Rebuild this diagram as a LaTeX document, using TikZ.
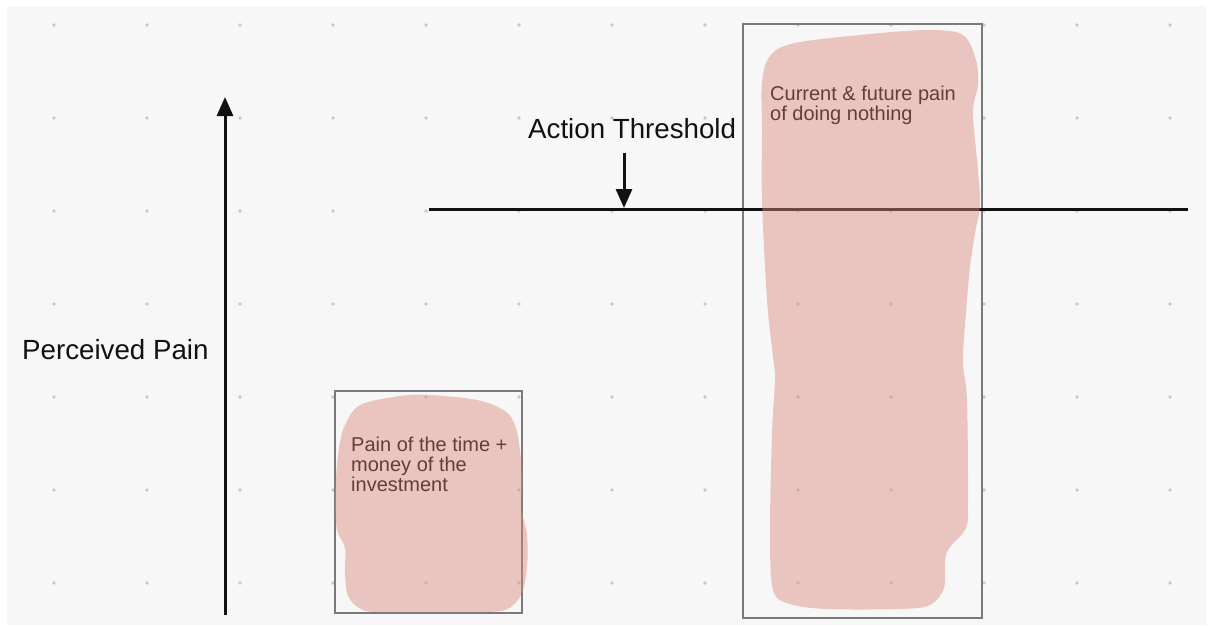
\documentclass[tikz,border=0pt]{standalone}
\usepackage{fontspec}
\setmainfont{Liberation Sans}
\usetikzlibrary{arrows.meta}
\definecolor{bgc}{HTML}{F7F7F7}
\definecolor{dotc}{HTML}{C8C8C8}
\definecolor{boxc}{HTML}{7A7A7A}
\definecolor{blobc}{RGB}{220,138,127}
\definecolor{inkc}{HTML}{111111}
\begin{document}
\begin{tikzpicture}[x=1pt,y=-1pt,
  framebox/.style={draw=boxc, line width=1.6pt, inner sep=0pt},
  arr/.style={draw=inkc, line width=3pt, -{Triangle[length=19pt,width=16pt]}},
  thr/.style={draw=inkc, line width=3pt},
  bigtext/.style={font=\fontsize{27.7}{30}\selectfont, text=inkc, inner sep=0pt, anchor=base west},
  smalltext/.style={font=\fontsize{20}{20}\selectfont, text=black, inner sep=0pt, anchor=north west, align=left},
  blob/.style={fill=blobc, fill opacity=0.45}]
\useasboundingbox (0,0) rectangle (1208,626);
\fill[white] (0,0) rectangle (1208,626);
\fill[bgc] (7,6) rectangle (1206,625);
\foreach \i in {0,...,12}
  \foreach \j in {0,...,6}
    \fill[dotc] (54+93*\i, 25+93*\j) circle (1.8);
% boxes
\node[framebox, minimum width=187, minimum height=222] (small) at (428.5,502) {};
\node[framebox, minimum width=239, minimum height=594] (big) at (862.5,321) {};
% vertical axis
\coordinate (vb) at (225,615);
\coordinate (vt) at (225,97);
\draw[arr] (vb) -- (vt);
% threshold
\coordinate (tl) at (429,209);
\coordinate (tr) at (1188,209);
\draw[thr] (tl) -- (tr);
\coordinate (da) at (624,153);
\coordinate (db) at (624,208);
\draw[arr] (da) -- (db);
% texts
\node[bigtext] (pp) at (22,359) {Perceived Pain};
\node[bigtext] (at) at (528,139) {Action Threshold};
\node[smalltext] (st) at (351,436.5) {Pain of the time +\\money of the\\investment};
\node[smalltext] (bt) at (770,85.5) {Current \& future pain\\of doing nothing};
% blobs
\fill[blob] plot[smooth cycle, tension=0.55] coordinates {
  (345,425) (360,405) (400,396) (430,395) (477,400) (505,411) (516,428)
  (521,460) (522,490) (521,508) (527,535) (527,567) (521,595) (505,610)
  (470,612) (400,612) (366,611) (349,598) (345,575) (345,548) (337,530)
  (335,500) (337,465) (340,442)};
\fill[blob] plot[smooth cycle, tension=0.55] coordinates {
  (762,82) (770,56) (795,43) (870,34) (930,30) (963,35) (976,60) (978,85)
  (973,112) (978,170) (980,205) (975,233) (970,267) (967,300) (963,360)
  (967,400) (968,500) (966,528) (950,547) (945,560) (944,588) (930,605)
  (900,609) (827,609) (790,604) (773,590) (770,533) (772,433) (775,380)
  (773,357) (767,300) (762,200) (762,130)};
\end{tikzpicture}
\end{document}
